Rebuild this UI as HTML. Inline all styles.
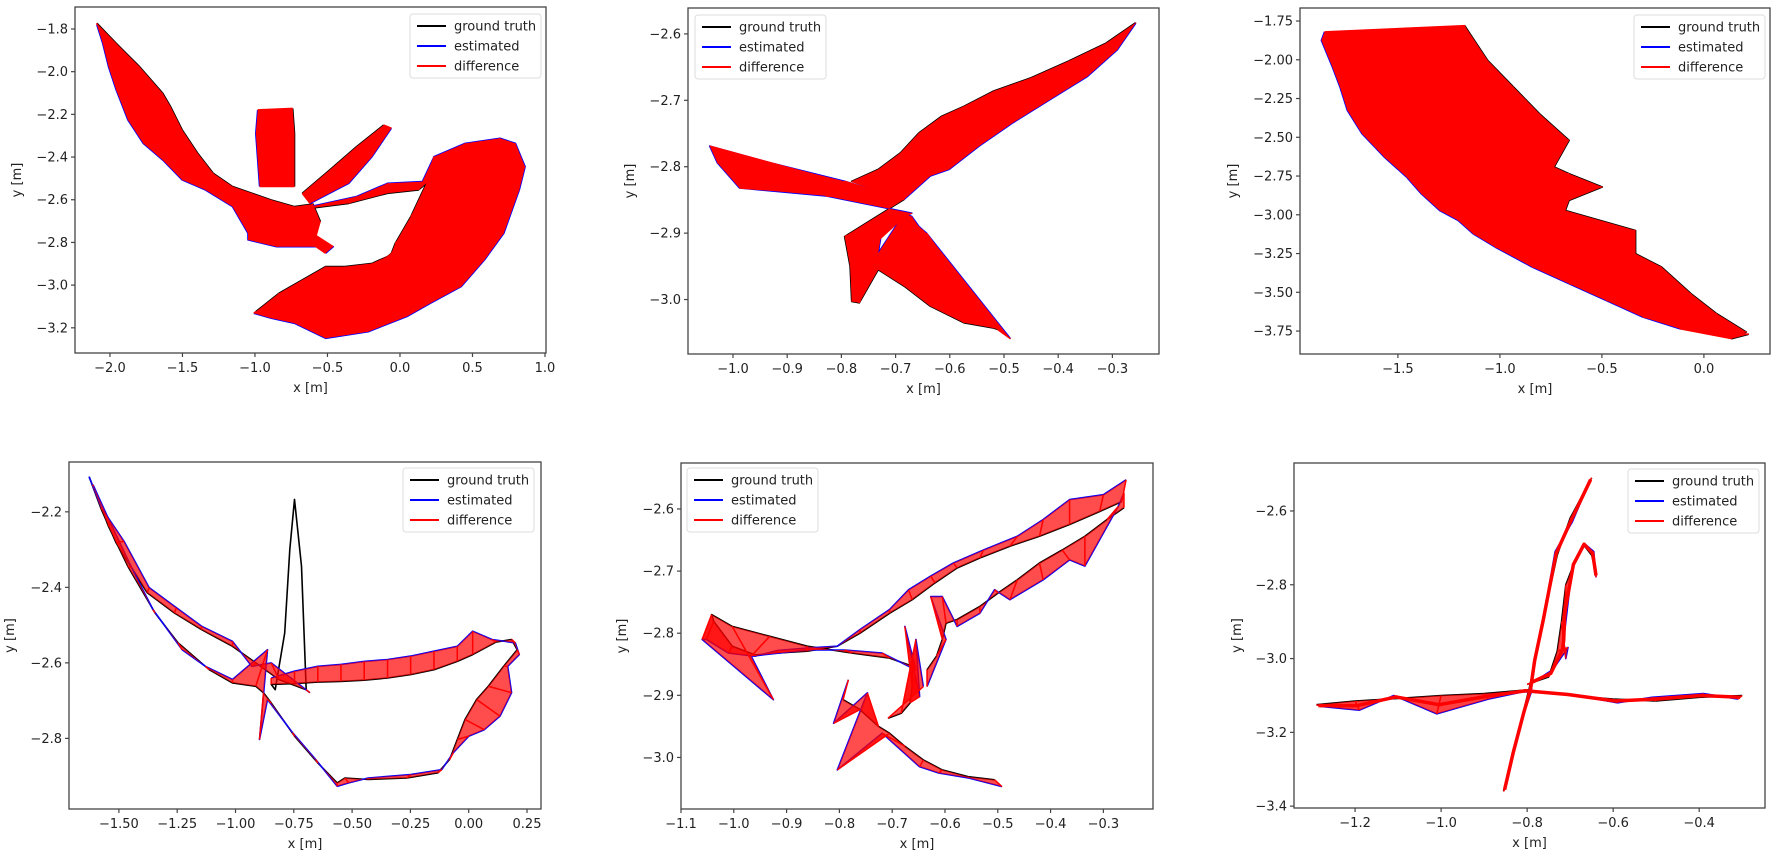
<!DOCTYPE html>
<html><head><meta charset="utf-8"><style>
html,body{margin:0;padding:0;background:#fff;}
svg{display:block;font-family:"DejaVu Sans","Liberation Sans",sans-serif;}
</style></head><body>
<svg id="fig" width="1772" height="858" viewBox="0 0 1772 858" xmlns="http://www.w3.org/2000/svg"></svg>
<script>
// ---------- Plot 1 ----------
const p1GtX=[-2.090,-1.957,-1.796,-1.636,-1.582,-1.502,-1.395,-1.288,-1.155,-1.021,-0.887,-0.727,-0.60,-0.55,-0.674,-0.647,null,-0.727,-0.727,-0.727,-0.740,null,-0.674,-0.486,-0.299,-0.112,null,-0.620,-0.353,-0.086,0.128,0.182,0.075,-0.032,-0.059,-0.072,-0.086,-0.099,-0.112,-0.139,-0.192,-0.273,-0.380,-0.513,-0.674,-0.834,-0.994];
const p1GtY=[-1.773,-1.867,-1.976,-2.101,-2.164,-2.273,-2.382,-2.476,-2.538,-2.570,-2.601,-2.632,-2.62,-2.70,-2.726,-2.788,null,-2.538,-2.414,-2.289,-2.172,null,-2.570,-2.461,-2.351,-2.250,null,-2.640,-2.617,-2.570,-2.554,-2.523,-2.679,-2.804,-2.851,-2.859,-2.866,-2.870,-2.874,-2.882,-2.898,-2.905,-2.913,-2.913,-2.976,-3.038,-3.124];
const p1EstX=[-2.090,-2.050,-2.010,-1.957,-1.876,-1.770,-1.636,-1.502,-1.342,-1.155,-1.048,-1.048,-0.85,-0.60,-0.460,-0.513,null,-0.968,-0.981,-0.994,-0.981,null,-0.620,-0.353,-0.192,-0.059,null,-0.620,-0.299,-0.086,0.155,0.235,0.449,0.690,0.797,0.863,0.823,0.716,0.583,0.422,0.209,0.048,-0.219,-0.513,-0.727,-0.887,-1.008];
const p1EstY=[-1.781,-1.867,-1.976,-2.086,-2.226,-2.336,-2.414,-2.507,-2.554,-2.632,-2.757,-2.788,-2.82,-2.82,-2.820,-2.851,null,-2.538,-2.414,-2.289,-2.179,null,-2.617,-2.523,-2.398,-2.265,null,-2.632,-2.585,-2.523,-2.515,-2.398,-2.336,-2.312,-2.336,-2.445,-2.554,-2.757,-2.882,-3.007,-3.085,-3.147,-3.218,-3.249,-3.179,-3.155,-3.132];
const p1XTicks=[-2.0,-1.5,-1.0,-0.5,0.0,0.5,1.0];
const p1XLabels=["−2.0","−1.5","−1.0","−0.5","0.0","0.5","1.0"];
const p1YTicks=[-1.8,-2.0,-2.2,-2.4,-2.6,-2.8,-3.0,-3.2];
const p1YLabels=["−1.8","−2.0","−2.2","−2.4","−2.6","−2.8","−3.0","−3.2"];
// ---------- Plot 2 ----------
const p2GtX=[-0.257,-0.312,-0.381,-0.450,-0.519,-0.574,-0.615,-0.657,-0.691,-0.732,-0.781,-0.684,-0.684,-0.684,-0.684,-0.684,-0.684,-0.794,-0.784,-0.781,-0.767,-0.732,-0.684,-0.636,-0.574,-0.519,-0.512];
const p2GtY=[-2.583,-2.614,-2.641,-2.666,-2.686,-2.709,-2.724,-2.749,-2.779,-2.804,-2.822,-2.849,-2.849,-2.849,-2.849,-2.849,-2.849,-2.905,-2.950,-3.003,-3.005,-2.955,-2.980,-3.010,-3.035,-3.043,-3.045];
const p2EstX=[-0.257,-0.291,-0.346,-0.415,-0.484,-0.546,-0.601,-0.636,-0.684,-0.684,-0.684,-0.794,-0.932,-1.043,-1.029,-0.988,-0.829,-0.670,-0.684,-0.726,-0.732,-0.684,-0.670,-0.657,-0.650,-0.643,-0.488];
const p2EstY=[-2.584,-2.624,-2.664,-2.699,-2.734,-2.769,-2.804,-2.814,-2.849,-2.849,-2.849,-2.822,-2.794,-2.769,-2.794,-2.832,-2.844,-2.870,-2.875,-2.900,-2.930,-2.870,-2.875,-2.890,-2.895,-2.900,-3.059];
const p2XTicks=[-1.0,-0.9,-0.8,-0.7,-0.6,-0.5,-0.4,-0.3];
const p2XLabels=["−1.0","−0.9","−0.8","−0.7","−0.6","−0.5","−0.4","−0.3"];
const p2YTicks=[-2.6,-2.7,-2.8,-2.9,-3.0];
const p2YLabels=["−2.6","−2.7","−2.8","−2.9","−3.0"];
// ---------- Plot 3 ----------
const p3GtX=[-1.17,-1.168,-1.060,-0.933,-0.806,-0.661,-0.734,-0.661,-0.498,-0.661,-0.679,-0.335,-0.335,-0.208,-0.063,0.063,0.208,0.136,0.22];
const p3GtY=[-1.78,-1.789,-2.004,-2.176,-2.348,-2.520,-2.692,-2.735,-2.821,-2.907,-2.972,-3.101,-3.251,-3.337,-3.509,-3.638,-3.756,-3.799,-3.77];
const p3EstX=[-1.86,-1.875,-1.821,-1.784,-1.748,-1.676,-1.567,-1.458,-1.386,-1.295,-1.205,-1.132,-1.024,-0.842,-0.661,-0.480,-0.299,-0.118,0.05];
const p3EstY=[-1.82,-1.875,-2.047,-2.176,-2.326,-2.477,-2.627,-2.756,-2.864,-2.972,-3.036,-3.122,-3.208,-3.337,-3.445,-3.552,-3.660,-3.735,-3.76];
const p3XTicks=[-1.5,-1.0,-0.5,0.0];
const p3XLabels=["−1.5","−1.0","−0.5","0.0"];
const p3YTicks=[-1.75,-2.0,-2.25,-2.5,-2.75,-3.0,-3.25,-3.5,-3.75];
const p3YLabels=["−1.75","−2.00","−2.25","−2.50","−2.75","−3.00","−3.25","−3.50","−3.75"];
// ---------- Plot 4 ----------
const p4GtX=[-1.628,-1.575,-1.512,-1.379,-1.262,-1.146,-1.013,-0.913,-0.814,-0.697,-0.717,-0.747,-0.767,-0.789,-0.830,-0.847,-0.747,-0.647,-0.548,-0.448,-0.348,-0.249,-0.149,-0.049,0.017,0.117,0.184,0.208,0.150,0.084,0.034,-0.016,-0.049,-0.082,-0.132,-0.265,-0.431,-0.531,-0.564,-0.647,-0.747,-0.847,-0.880,-0.913,-1.013,-1.113,-1.246,-1.345,-1.462,-1.545,-1.611];
const p4GtY=[-2.107,-2.194,-2.282,-2.414,-2.468,-2.512,-2.556,-2.600,-2.644,-2.671,-2.344,-2.167,-2.300,-2.521,-2.671,-2.657,-2.655,-2.651,-2.649,-2.646,-2.640,-2.631,-2.618,-2.596,-2.578,-2.545,-2.538,-2.565,-2.609,-2.662,-2.697,-2.750,-2.803,-2.856,-2.891,-2.905,-2.909,-2.905,-2.918,-2.865,-2.794,-2.706,-2.679,-2.662,-2.653,-2.618,-2.547,-2.468,-2.344,-2.238,-2.132];
const p4EstX=[-1.628,-1.575,-1.478,-1.370,-1.254,-1.146,-1.013,-0.930,-0.847,-0.681,null,null,null,null,null,-0.847,-0.747,-0.647,-0.548,-0.448,-0.348,-0.249,-0.149,-0.049,0.017,0.100,0.200,0.217,0.167,0.184,0.134,0.067,0.001,-0.066,-0.116,-0.249,-0.431,-0.514,-0.564,-0.656,-0.755,-0.863,-0.897,-0.863,-1.013,-1.129,-1.229,-1.354,-1.445,-1.537,-1.611];
const p4EstY=[-2.107,-2.189,-2.278,-2.401,-2.454,-2.503,-2.543,-2.609,-2.600,-2.679,null,null,null,null,null,-2.640,-2.622,-2.609,-2.604,-2.596,-2.591,-2.582,-2.569,-2.556,-2.516,-2.538,-2.547,-2.578,-2.609,-2.679,-2.741,-2.777,-2.794,-2.838,-2.883,-2.896,-2.905,-2.918,-2.927,-2.856,-2.785,-2.697,-2.803,-2.565,-2.644,-2.609,-2.565,-2.459,-2.348,-2.229,-2.128];
const p4XTicks=[-1.5,-1.25,-1.0,-0.75,-0.5,-0.25,0.0,0.25];
const p4XLabels=["−1.50","−1.25","−1.00","−0.75","−0.50","−0.25","0.00","0.25"];
const p4YTicks=[-2.2,-2.4,-2.6,-2.8];
const p4YLabels=["−2.2","−2.4","−2.6","−2.8"];
// ---------- Plot 5 ----------
const p5GtX=[-0.265,-0.307,-0.364,-0.421,-0.477,-0.534,-0.577,-0.619,-0.662,-0.705,-0.761,-0.804,-0.861,-0.918,-0.960,-1.003,-1.038,-1.042,-1.003,-0.932,-0.861,-0.776,-0.705,-0.662,-0.662,-0.666,-0.683,-0.708,null,-0.261,-0.293,-0.335,-0.378,-0.421,-0.463,-0.499,-0.534,-0.577,-0.598,-0.605,-0.616,-0.634,null,-0.793,-0.761,-0.726,-0.705,-0.676,-0.641,-0.605,-0.556,-0.506];
const p5GtY=[-2.588,-2.604,-2.625,-2.644,-2.660,-2.679,-2.695,-2.719,-2.746,-2.768,-2.800,-2.821,-2.829,-2.832,-2.835,-2.821,-2.781,-2.770,-2.789,-2.805,-2.821,-2.832,-2.840,-2.853,-2.886,-2.912,-2.929,-2.937,null,-2.598,-2.617,-2.644,-2.666,-2.687,-2.714,-2.735,-2.757,-2.778,-2.784,-2.810,-2.837,-2.859,null,-2.907,-2.923,-2.950,-2.961,-2.982,-3.004,-3.020,-3.031,-3.036];
const p5EstX=[-0.257,-0.300,-0.364,-0.414,-0.463,-0.527,-0.584,-0.627,-0.669,-0.705,-0.761,-0.804,-0.861,-0.918,-0.960,-1.010,-1.052,-1.060,-0.925,-0.967,-0.861,-0.790,-0.719,-0.655,-0.676,-0.648,-0.655,-0.641,null,-0.261,-0.272,-0.335,-0.364,-0.414,-0.477,-0.506,-0.534,-0.577,-0.605,-0.627,-0.598,-0.634,null,-0.783,-0.811,-0.747,-0.804,-0.719,-0.648,-0.612,-0.556,-0.492];
const p5EstY=[-2.553,-2.577,-2.585,-2.617,-2.644,-2.666,-2.687,-2.708,-2.730,-2.762,-2.794,-2.821,-2.824,-2.828,-2.837,-2.832,-2.810,-2.810,-2.907,-2.837,-2.827,-2.827,-2.832,-2.859,-2.789,-2.902,-2.810,-2.886,null,-2.574,-2.596,-2.692,-2.682,-2.714,-2.746,-2.730,-2.768,-2.789,-2.741,-2.741,-2.810,-2.886,null,-2.875,-2.945,-2.896,-3.020,-2.961,-3.015,-3.025,-3.033,-3.047];
const p5XTicks=[-1.1,-1.0,-0.9,-0.8,-0.7,-0.6,-0.5,-0.4,-0.3];
const p5XLabels=["−1.1","−1.0","−0.9","−0.8","−0.7","−0.6","−0.5","−0.4","−0.3"];
const p5YTicks=[-2.6,-2.7,-2.8,-2.9,-3.0];
const p5YLabels=["−2.6","−2.7","−2.8","−2.9","−3.0"];
// ---------- Plot 6 ----------
const p6GtX=[-1.29,-1.2,-1.1,-1.0,-0.9,-0.8,-0.7,-0.6,-0.5,-0.4,-0.3,null,-0.855,-0.83,-0.81,-0.795,-0.78,-0.765,-0.745,-0.73,-0.7,-0.65,null,-0.8,-0.75,-0.73,-0.72,-0.71,-0.69,-0.67,-0.65,-0.64];
const p6GtY=[-3.125,-3.115,-3.108,-3.1,-3.095,-3.085,-3.1,-3.11,-3.115,-3.105,-3.1,null,-3.36,-3.25,-3.15,-3.08,-3.0,-2.9,-2.8,-2.72,-2.62,-2.51,null,-3.07,-3.05,-2.98,-2.9,-2.8,-2.74,-2.69,-2.72,-2.77];
const p6EstX=[-1.28,-1.19,-1.11,-1.01,-0.89,-0.81,-0.71,-0.59,-0.51,-0.39,-0.31,null,-0.85,-0.835,-0.805,-0.79,-0.785,-0.76,-0.75,-0.735,-0.695,-0.655,null,-0.78,-0.74,-0.705,-0.71,-0.715,-0.695,-0.665,-0.645,-0.64];
const p6EstY=[-3.13,-3.14,-3.10,-3.15,-3.11,-3.09,-3.095,-3.12,-3.105,-3.095,-3.11,null,-3.35,-3.26,-3.14,-3.09,-3.01,-2.89,-2.81,-2.71,-2.63,-2.52,null,-3.06,-3.03,-2.97,-3.0,-2.95,-2.75,-2.69,-2.71,-2.78];
const p6XTicks=[-1.2,-1.0,-0.8,-0.6,-0.4];
const p6XLabels=["−1.2","−1.0","−0.8","−0.6","−0.4"];
const p6YTicks=[-2.6,-2.8,-3.0,-3.2,-3.4];
const p6YLabels=["−2.6","−2.8","−3.0","−3.2","−3.4"];

const NS="http://www.w3.org/2000/svg";
const svg=document.getElementById('fig');
function mk(tag,attrs,parent){const e=document.createElementNS(NS,tag);for(const k in attrs)e.setAttribute(k,attrs[k]);parent.appendChild(e);return e;}

function drawPlot(n,ax,gtX,gtY,estX,estY,xT,xL,yT,yL,fillOp,leg,ylOff,redTrace){
  const g=mk('g',{},svg);
  
  
  const sx=v=>ax.l+(v-ax.x0)/(ax.x1-ax.x0)*(ax.r-ax.l);
  const sy=v=>ax.t+(v-ax.y0)/(ax.y1-ax.y0)*(ax.b-ax.t);
  const cp=mk('clipPath',{id:'clip'+n},g);
  mk('rect',{x:ax.l,y:ax.t,width:ax.r-ax.l,height:ax.b-ax.t},cp);
  const plot=mk('g',{'clip-path':'url(#clip'+n+')'},g);
  
  
  function paths(X,Y){const segs=[];let cur=[];for(let i=0;i<X.length;i++){if(X[i]===null||Y[i]===null){if(cur.length)segs.push(cur);cur=[];}else cur.push(sx(X[i]).toFixed(1)+','+sy(Y[i]).toFixed(1));}if(cur.length)segs.push(cur);return segs;}
  paths(gtX,gtY).forEach(s=>{const p=mk('polyline',{points:s.join(' '),fill:'none',stroke:'#000',"stroke-width":1.6,"stroke-linejoin":"round"},plot);
    
    });
  paths(estX,estY).forEach(s=>{const p=mk('polyline',{points:s.join(' '),fill:'none',stroke:'#0000ff',"stroke-width":1.6,"stroke-linejoin":"round"},plot);
    
    });
  const ok=i=>i>=0&&i<gtX.length&&gtX[i]!==null&&estX[i]!==null&&gtY[i]!==null&&estY[i]!==null;
  for(let i=0;i<gtX.length-1;i++){
    if(ok(i)&&ok(i+1)&&fillOp>0){
      const pts=[[gtX[i],gtY[i]],[gtX[i+1],gtY[i+1]],[estX[i+1],estY[i+1]],[estX[i],estY[i]]].map(p=>sx(p[0]).toFixed(1)+','+sy(p[1]).toFixed(1)).join(' ');
      const q=mk('polygon',{points:pts,fill:'#ff0000',"fill-opacity":fillOp,stroke:'none'},plot);
      
      
    }
  }
  if(redTrace){
    const mx=gtX.map((v,i)=>v===null||estX[i]===null?null:(v+estX[i])/2);
    const my=gtY.map((v,i)=>v===null||estY[i]===null?null:(v+estY[i])/2);
    paths(mx,my).forEach(s=>{const p=mk('polyline',{points:s.join(' '),fill:'none',stroke:'#ff0000',"stroke-width":3.5,"stroke-linejoin":"round"},plot);
      
      });
  }
  for(let i=0;i<gtX.length;i++){
    if(!ok(i))continue;
    const l=mk('line',{x1:sx(gtX[i]),y1:sy(gtY[i]),x2:sx(estX[i]),y2:sy(estY[i]),stroke:'#ff0000',"stroke-width":1.5},plot);
    
    
  }
  const fr=mk('rect',{x:ax.l,y:ax.t,width:ax.r-ax.l,height:ax.b-ax.t,fill:'none',stroke:'#444',"stroke-width":1.3},g);
  
  
  xT.forEach((v,i)=>{const x=sx(v);
    mk('line',{x1:x,y1:ax.b,x2:x,y2:ax.b+4,stroke:'#444',"stroke-width":1.2},g);
    const t=mk('text',{x:x,y:ax.b+19,"font-size":13,"text-anchor":"middle",fill:'#222'},g);
    t.textContent=xL[i];
    
    });
  yT.forEach((v,i)=>{const y=sy(v);
    mk('line',{x1:ax.l-4,y1:y,x2:ax.l,y2:y,stroke:'#444',"stroke-width":1.2},g);
    const t=mk('text',{x:ax.l-7,y:y+4.5,"font-size":13,"text-anchor":"end",fill:'#222'},g);
    t.textContent=yL[i];
    
    });
  const xl=mk('text',{x:(ax.l+ax.r)/2,y:ax.b+39,"font-size":13,"text-anchor":"middle",fill:'#222'},g);
  xl.textContent='x [m]';
  
  
  const yx=ax.l-ylOff, yy=(ax.t+ax.b)/2;
  const yl=mk('text',{x:yx,y:yy,"font-size":13,"text-anchor":"middle",fill:'#222',transform:'rotate(-90 '+yx+' '+yy+')'},g);
  yl.textContent='y [m]';
  
  
  const lg=mk('g',{},g);
  
  
  mk('rect',{x:leg[0],y:leg[1],width:131,height:64,rx:3,fill:'#fff',"fill-opacity":0.85,stroke:'#ddd',"stroke-width":1},lg);
  [['ground truth','#000'],['estimated','#0000ff'],['difference','#ff0000']].forEach((e,k)=>{
    const yy2=leg[1]+12+k*20;
    mk('line',{x1:leg[0]+7,y1:yy2,x2:leg[0]+36,y2:yy2,stroke:e[1],"stroke-width":2},lg);
    const t=mk('text',{x:leg[0]+44,y:yy2+4.5,"font-size":13,fill:'#222'},lg);
    t.textContent=e[0];
    
    
  });
}
drawPlot(1,{l:75,r:546,t:7,b:353,x0:-2.241,x1:1.007,y0:-1.697,y1:-3.318},p1GtX,p1GtY,p1EstX,p1EstY,p1XTicks,p1XLabels,p1YTicks,p1YLabels,1.0,[410,14],54,false);
drawPlot(2,{l:688,r:1159,t:8,b:354,x0:-1.083,x1:-0.214,y0:-2.561,y1:-3.082},p2GtX,p2GtY,p2EstX,p2EstY,p2XTicks,p2XLabels,p2YTicks,p2YLabels,1.0,[695,15],54,false);
drawPlot(3,{l:1300,r:1770,t:8,b:354,x0:-1.980,x1:0.324,y0:-1.666,y1:-3.898},p3GtX,p3GtY,p3EstX,p3EstY,p3XTicks,p3XLabels,p3YTicks,p3YLabels,1.0,[1634,15],63,false);
drawPlot(4,{l:69,r:541,t:462,b:809,x0:-1.714,x1:0.310,y0:-2.068,y1:-2.987},p4GtX,p4GtY,p4EstX,p4EstY,p4XTicks,p4XLabels,p4YTicks,p4YLabels,0.7,[403,468],55,false);
drawPlot(5,{l:681,r:1153,t:463,b:809,x0:-1.1,x1:-0.206,y0:-2.526,y1:-3.083},p5GtX,p5GtY,p5EstX,p5EstY,p5XTicks,p5XLabels,p5YTicks,p5YLabels,0.7,[687,468],55,false);
drawPlot(6,{l:1294,r:1765,t:463,b:808,x0:-1.342,x1:-0.247,y0:-2.470,y1:-3.405},p6GtX,p6GtY,p6EstX,p6EstY,p6XTicks,p6XLabels,p6YTicks,p6YLabels,0.75,[1628,469],53,true);
</script>
</body></html>
